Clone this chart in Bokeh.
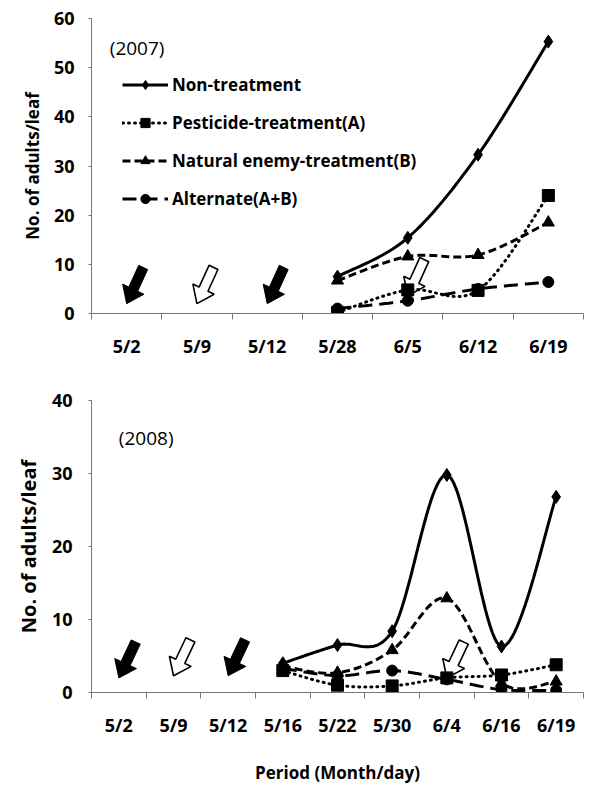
import numpy as np
from bokeh.plotting import figure
from bokeh.layouts import column
from bokeh.models import FixedTicker, Legend, LegendItem, Label
from bokeh.embed import file_html
from bokeh.resources import INLINE

# ---------------- data ----------------
dates_2007 = ["5/2", "5/9", "5/12", "5/28", "6/5", "6/12", "6/19"]
obs_2007 = ["5/28", "6/5", "6/12", "6/19"]
non_2007 = [7.5, 15.4, 32.3, 55.3]
pest_2007 = [0.2, 4.8, 4.7, 24.0]
nat_2007 = [6.7, 11.6, 11.9, 18.5]
alt_2007 = [1.0, 2.6, 5.0, 6.4]
arrow_dates_2007 = ["5/2", "5/9", "5/12", "6/5"]
arrow_y_2007 = [2.0, 2.0, 2.0, 3.6]
arrow_kind_2007 = ["solid", "hollow", "solid", "hollow"]

dates_2008 = ["5/2", "5/9", "5/12", "5/16", "5/22", "5/30", "6/4", "6/16", "6/19"]
obs_2008 = ["5/16", "5/22", "5/30", "6/4", "6/16", "6/19"]
non_2008 = [4.0, 6.5, 8.4, 29.8, 6.3, 26.8]
pest_2008 = [3.0, 1.0, 0.9, 2.0, 2.4, 3.8]
nat_2008 = [3.6, 2.7, 5.8, 12.9, 1.3, 1.5]
alt_2008 = [3.3, 2.3, 3.0, 1.8, 0.4, 0.3]
arrow_dates_2008 = ["5/2", "5/9", "5/12", "6/4"]
arrow_y_2008 = [2.0, 2.3, 2.3, 2.0]
arrow_kind_2008 = ["solid", "hollow", "solid", "hollow"]

labels = ["Non-treatment", "Pesticide-treatment(A)",
          "Natural enemy-treatment(B)", "Alternate(A+B)"]

FONT = "Open Sans"
W = 589


def smooth(xs, ys, n=24):
    """Excel-style smoothed line (Catmull-Rom bezier) through the points."""
    pts = np.column_stack([xs, ys]).astype(float)
    P = np.vstack([pts[0], pts, pts[-1]])
    ox, oy = [], []
    nseg = len(pts) - 1
    for i in range(1, nseg + 1):
        p0, p1, p2, p3 = P[i - 1], P[i], P[i + 1], P[i + 2]
        c1 = p1 + (p2 - p0) / 6.0
        c2 = p2 - (p3 - p1) / 6.0
        t = np.linspace(0, 1, n, endpoint=(i == nseg))[:, None]
        b = ((1 - t) ** 3) * p1 + 3 * ((1 - t) ** 2) * t * c1 + 3 * (1 - t) * t ** 2 * c2 + t ** 3 * p2
        ox.extend(b[:, 0]); oy.extend(b[:, 1])
    return ox, oy


def arrow_poly(tx, ty, sx, sy, L=40, S=10, Wh=24, H=16, ang=25):
    a = np.radians(ang)
    u = np.array([-np.sin(a), -np.cos(a)])
    v = np.array([np.cos(a), -np.sin(a)])
    local = [(0, 0), (-H, Wh / 2), (-H, S / 2), (-L, S / 2), (-L, -S / 2), (-H, -S / 2), (-H, -Wh / 2)]
    xs, ys = [], []
    for al, pe in local:
        off = al * u + pe * v
        xs.append(tx + off[0] / sx)
        ys.append(ty + off[1] / sy)
    return xs, ys


def make_fig(cats, obs, series, y_end, height, mbl, mbr, mbt, mbb,
             ytitle_size, ylab_std, xtitle, arrows, year, year_pos, legend):
    n = len(cats)
    p = figure(width=W, height=height, x_range=(-0.5, n - 0.5), y_range=(0, y_end),
               output_backend="svg", toolbar_location=None,
               min_border_left=mbl, min_border_right=mbr,
               min_border_top=mbt, min_border_bottom=mbb)
    p.grid.visible = False
    p.outline_line_color = None
    p.background_fill_color = "white"

    fw = W - mbl - mbr
    fh = height - mbt - mbb
    sx = fw / n
    sy = fh / y_end

    idx = {c: i for i, c in enumerate(cats)}
    xo = [idx[c] for c in obs]

    # x axis
    xa = p.xaxis[0]
    xa.ticker = FixedTicker(ticks=list(range(n)), minor_ticks=[i - 0.5 for i in range(n + 1)])
    xa.major_label_overrides = {i: c for i, c in enumerate(cats)}
    xa.major_tick_out = 0
    xa.major_tick_in = 0
    xa.minor_tick_out = 6
    xa.minor_tick_in = 0
    xa.minor_tick_line_color = "#777777"
    xa.axis_line_color = "#777777"
    xa.major_label_text_font = FONT
    xa.major_label_text_font_style = "bold"
    xa.major_label_text_font_size = "18px"
    xa.major_label_text_color = "black"
    xa.major_label_standoff = 14
    if xtitle:
        xa.axis_label = xtitle
        xa.axis_label_text_font = FONT
        xa.axis_label_text_font_style = "bold"
        xa.axis_label_text_font_size = "17px"
        xa.axis_label_text_color = "black"
        xa.axis_label_standoff = 21

    # y axis
    ya = p.yaxis[0]
    ya.ticker = FixedTicker(ticks=list(range(0, y_end + 1, 10)), minor_ticks=[])
    ya.major_tick_out = 3
    ya.major_tick_in = 0
    ya.major_tick_line_color = "#777777"
    ya.axis_line_color = "#777777"
    ya.major_label_text_font = FONT
    ya.major_label_text_font_style = "bold"
    ya.major_label_text_font_size = "18px"
    ya.major_label_text_color = "black"
    ya.major_label_standoff = ylab_std
    ya.axis_label = "No. of adults/leaf"
    ya.axis_label_text_font = FONT
    ya.axis_label_text_font_style = "bold"
    ya.axis_label_text_font_size = f"{ytitle_size}px"
    ya.axis_label_text_color = "black"
    ya.axis_label_standoff = 7

    # arrows
    for d, yv, kind in zip(*arrows):
        axs, ays = arrow_poly(idx[d], yv, sx, sy)
        if kind == "solid":
            p.patch(axs, ays, fill_color="black", line_color="black", line_width=1)
        else:
            p.patch(axs, ays, fill_color="white", line_color="black", line_width=1.6)

    styles = [
        dict(dash="solid", marker="diamond", size=13),
        dict(dash="1 5", marker="square", size=12),
        dict(dash="8 4", marker="triangle", size=12),
        dict(dash="14 7", marker="circle", size=11),
    ]
    items = []
    for vals, st, lab in zip(series, styles, labels):
        lx, ly = smooth(xo, vals)
        lr = p.line(lx, ly, line_color="black", line_width=3, line_dash=st["dash"],
                    line_cap="round" if st["dash"] == "1 5" else "butt")
        sr = p.scatter(xo, vals, marker=st["marker"], size=st["size"],
                       fill_color="black", line_color="black")
        items.append(LegendItem(label=lab, renderers=[lr, sr]))

    if legend:
        lg = Legend(items=items, location=(31, 103), border_line_color=None,
                    background_fill_alpha=0, padding=0, margin=0,
                    glyph_width=46, glyph_height=23, label_height=23, spacing=15,
                    label_standoff=4, label_text_font=FONT, label_text_font_style="bold",
                    label_text_font_size="17px", label_text_color="black")
        p.add_layout(lg)

    p.add_layout(Label(x=year_pos[0], y=year_pos[1], text=year, text_baseline="middle",
                       text_align="left", text_font=FONT, text_font_size="19px",
                       text_color="black"))
    return p


p1 = make_fig(dates_2007, obs_2007, [non_2007, pest_2007, nat_2007, alt_2007], 60,
              360, 85, 1, 18, 47, 17, 14, None,
              (arrow_dates_2007, arrow_y_2007, arrow_kind_2007), "(2007)", (-0.24, 53.9), True)
p2 = make_fig(dates_2008, obs_2008, [non_2008, pest_2008, nat_2008, alt_2008], 40,
              426, 91, 6, 40, 91, 20, 16, "Period (Month/day)",
              (arrow_dates_2008, arrow_y_2008, arrow_kind_2008), "(2008)", (0.0, 34.8), False)

layout = column(p1, p2, spacing=0)
open("out.html", "w").write(file_html(layout, INLINE))
